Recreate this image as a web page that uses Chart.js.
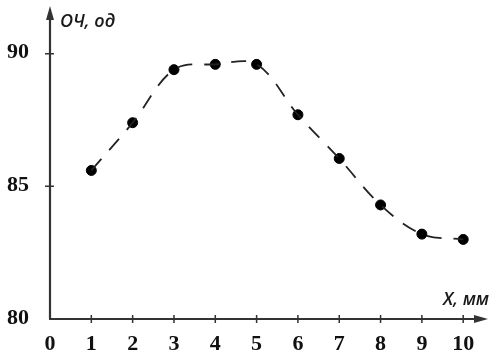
<!DOCTYPE html>
<html>
<head>
<meta charset="utf-8">
<script src="https://cdn.jsdelivr.net/npm/chart.js@4"></script>
<style>
  body { margin: 0; background: #fff; }
  #wrap { width: 497px; height: 354px; }
</style>
</head>
<body>
<div id="wrap"><canvas id="chart"></canvas></div>
<script>
// measured values, ОЧ vs X
const xValues = [1, 2, 3, 4, 5, 6, 7, 8, 9, 10];
const ochValues = [85.6, 87.4, 89.4, 89.6, 89.6, 87.7, 86.05, 84.3, 83.2, 83.0];
const xTicks = [0, 1, 2, 3, 4, 5, 6, 7, 8, 9, 10];
const yTicks = [80, 85, 90];
const yTitle = 'ОЧ, од';
const xTitle = 'X, мм';

const points = xValues.map((x, i) => ({ x: x, y: ochValues[i] }));
const axisColor = '#333';

// axes with arrow heads, tick marks and titles
const arrowAxes = {
    id: 'arrowAxes',
    afterDraw(chart) {
        const ctx = chart.ctx;
        const xs = chart.scales.x;
        const ys = chart.scales.y;
        const { left, right, top, bottom } = chart.chartArea;
        ctx.save();
        ctx.strokeStyle = axisColor;
        ctx.fillStyle = axisColor;
        ctx.lineWidth = 2.2;

        ctx.beginPath();
        ctx.moveTo(left, bottom);
        ctx.lineTo(left, top + 8);
        ctx.moveTo(left - 1, bottom);
        ctx.lineTo(right - 8, bottom);
        ctx.stroke();

        ctx.beginPath();
        ctx.moveTo(left, top);
        ctx.lineTo(left - 4, top + 14);
        ctx.lineTo(left + 4, top + 14);
        ctx.closePath();
        ctx.fill();

        ctx.beginPath();
        ctx.moveTo(right, bottom);
        ctx.lineTo(right - 14, bottom - 4);
        ctx.lineTo(right - 14, bottom + 4);
        ctx.closePath();
        ctx.fill();

        ctx.lineWidth = 1.5;
        ctx.beginPath();
        xTicks.forEach(v => {
            if (v === 0) return;
            const px = xs.getPixelForValue(v);
            ctx.moveTo(px, bottom - 4);
            ctx.lineTo(px, bottom + 4);
        });
        yTicks.forEach(v => {
            if (v === 80) return;
            const py = ys.getPixelForValue(v);
            ctx.moveTo(left - 5, py);
            ctx.lineTo(left + 4, py);
        });
        ctx.stroke();

        ctx.fillStyle = '#1a1a1a';
        ctx.font = 'italic 600 18px "Open Sans"';
        ctx.textBaseline = 'alphabetic';
        ctx.textAlign = 'left';
        ctx.fillText(yTitle, left + 10, top + 21);
        ctx.textAlign = 'right';
        ctx.fillText(xTitle, right + 1, bottom - 14);
        ctx.restore();
    }
};

new Chart(document.getElementById('chart').getContext('2d'), {
    type: 'scatter',
    data: {
        datasets: [
            {
                data: points,
                showLine: true,
                tension: 0.35,
                borderColor: '#222',
                borderWidth: 1.8,
                borderDash: [15, 12],
                pointRadius: 0
            },
            {
                data: points,
                showLine: false,
                pointRadius: 5,
                pointBackgroundColor: '#000',
                pointBorderColor: '#000'
            }
        ]
    },
    options: {
        responsive: true,
        maintainAspectRatio: false,
        animation: false,
        layout: { padding: { top: 5, right: 9, left: 0, bottom: 0 } },
        plugins: {
            legend: { display: false },
            tooltip: { enabled: false }
        },
        scales: {
            x: {
                type: 'linear',
                min: 0,
                max: 10.6,
                afterBuildTicks: s => { s.ticks = xTicks.map(v => ({ value: v })); },
                afterFit: s => { s.height = 35; s.paddingLeft = 0; s.paddingRight = 0; },
                grid: { display: false },
                border: { display: false },
                ticks: {
                    padding: 4,
                    color: '#111',
                    font: { family: '"Liberation Serif"', size: 22, weight: 'bold' }
                }
            },
            y: {
                min: 80,
                max: 91.8,
                afterBuildTicks: s => { s.ticks = yTicks.map(v => ({ value: v })); },
                afterFit: s => { s.width = 50; s.paddingTop = 0; s.paddingBottom = 0; },
                grid: { display: false },
                border: { display: false },
                ticks: {
                    padding: 13,
                    labelOffset: -1,
                    color: '#111',
                    font: { family: '"Liberation Serif"', size: 22, weight: 'bold' }
                }
            }
        }
    },
    plugins: [arrowAxes]
});
</script>
</body>
</html>
